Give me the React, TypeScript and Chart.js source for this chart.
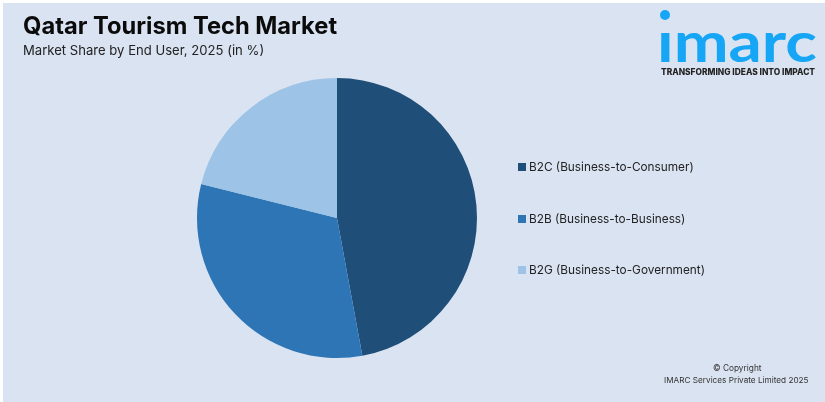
import { useRef, useEffect } from "react";
import { Chart, registerables } from "chart.js";

Chart.register(...registerables);

const categories = [
  "B2C (Business-to-Consumer)",
  "B2B (Business-to-Business)",
  "B2G (Business-to-Government)",
];
const shares = [47.1, 31.8, 21.1];
const sliceColors = ["#1F4E79", "#2E75B6", "#9DC3E6"];
const legendTops = [161.5, 213.5, 264.5];

const titleText = "Qatar Tourism Tech Market";
const subtitleText = "Market Share by End User, 2025 (in %)";
const pageColor = "#D9E3F1";
const logoColor = "#16A6F5";

const place = (left: number, top: number, size: number, weight: number, color: string): React.CSSProperties => ({
  position: "absolute",
  left,
  top,
  fontSize: size,
  fontWeight: weight,
  color,
  fontFamily: "Inter, sans-serif",
  lineHeight: 1,
  whiteSpace: "nowrap",
});

export default function App() {
  const chartRef = useRef<HTMLCanvasElement | null>(null);

  useEffect(() => {
    document.body.style.margin = "0";
    const ctx = chartRef.current?.getContext("2d");
    if (!ctx) return;

    const myChart = new Chart(ctx, {
      type: "pie",
      data: {
        labels: categories,
        datasets: [
          {
            data: shares,
            backgroundColor: sliceColors,
            borderWidth: 0,
          },
        ],
      },
      options: {
        animation: false,
        responsive: false,
        layout: {
          // pie sits at x 337, y 218 with radius 140
          padding: { left: 197, right: 348, top: 78, bottom: 44 },
        },
        plugins: {
          tooltip: { enabled: false },
          legend: { display: false },
        },
      },
    });

    return () => {
      myChart.destroy();
    };
  }, []);

  return (
    <div style={{ position: "relative", width: 825, height: 402, overflow: "hidden", background: "#ffffff" }}>
      <div style={{ position: "absolute", left: 3, top: 3, right: 0, bottom: 0, background: pageColor }} />
      <canvas ref={chartRef} width={825} height={402} style={{ position: "absolute", left: 0, top: 0 }} />
      <div style={place(23, 14, 23.7, 700, "#0B0B0B")}>{titleText}</div>
      <div style={place(23, 44, 13.1, 400, "#222222")}>{subtitleText}</div>
      {categories.map((name, i) => (
        <div key={name}>
          <div style={{ position: "absolute", left: 518, top: legendTops[i] + 1, width: 8, height: 8, background: sliceColors[i] }} />
          <div style={place(529, legendTops[i], 11.8, 400, "#222222")}>{name}</div>
        </div>
      ))}
      <div
        style={{
          ...place(657, 13, 56, 700, logoColor),
          fontFamily: "Lato, sans-serif",
          transform: "scaleX(1.17)",
          transformOrigin: "left top",
        }}
      >
        imarc
      </div>
      {/* the logo's dot sits higher than the font's own */}
      <div style={{ position: "absolute", left: 656, top: 19, width: 20, height: 13, background: pageColor }} />
      <div style={{ position: "absolute", left: 660, top: 10, width: 10, height: 10, borderRadius: "50%", background: logoColor }} />
      <div style={place(661, 68, 8.4, 800, "#222222")}>TRANSFORMING IDEAS INTO IMPACT</div>
      <div style={place(713, 364, 8.3, 400, "#333333")}>© Copyright</div>
      <div style={place(664, 376, 8.2, 400, "#333333")}>IMARC Services Private Limited 2025</div>
    </div>
  );
}
